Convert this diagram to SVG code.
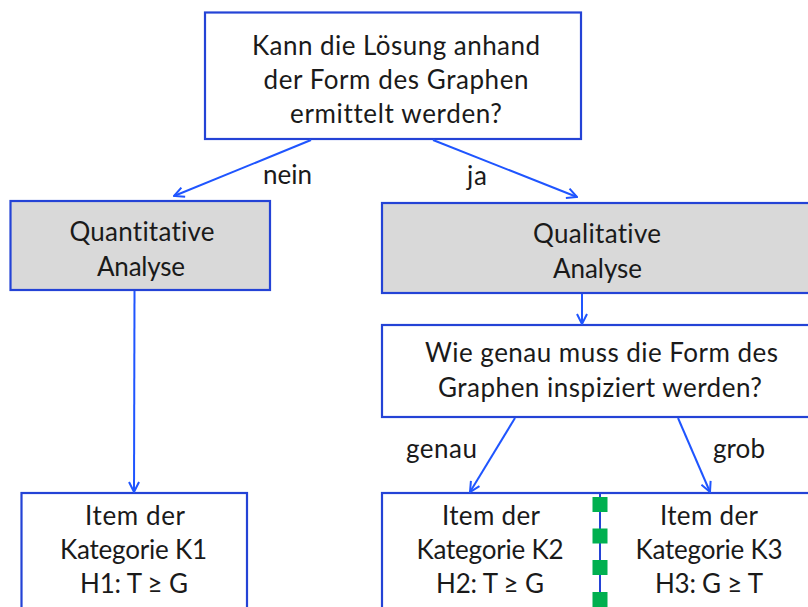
<svg xmlns="http://www.w3.org/2000/svg" width="808" height="607" viewBox="0 0 808 607">
<style>
.box{fill:#ffffff;stroke:#2443d6;stroke-width:2.2}
.grey{fill:#d9d9d9}
.t{font-family:Lato,"Liberation Sans",sans-serif;font-size:26px;fill:#1a1a1a;text-anchor:middle;font-variant-ligatures:none;font-feature-settings:"liga" 0,"clig" 0}
.lbl{font-family:Lato,"Liberation Sans",sans-serif;font-size:26px;fill:#1a1a1a;font-variant-ligatures:none;font-feature-settings:"liga" 0,"clig" 0}
.con{stroke:#1f55ff;stroke-width:2;fill:none;marker-end:url(#ah)}
</style>
<defs>
<marker id="ah" viewBox="0 0 12 12" refX="11" refY="6" markerWidth="12" markerHeight="12" markerUnits="userSpaceOnUse" orient="auto">
<polyline points="1,1 11,6 1,11" fill="none" stroke="#1f55ff" stroke-width="2"/>
</marker>
</defs>
<rect width="808" height="607" fill="#ffffff"/>
<g id="q1">
<rect class="box" x="205" y="12.5" width="376" height="126.5"/>
<text class="t" x="396" y="55" textLength="288">Kann die Lösung anhand</text>
<text class="t" x="396" y="89" textLength="265">der Form des Graphen</text>
<text class="t" x="396" y="123" textLength="212">ermittelt werden?</text>
</g>
<g id="quant">
<rect class="box grey" x="10.5" y="201" width="259.5" height="89"/>
<text class="t" x="142" y="241" textLength="145">Quantitative</text>
<text class="t" x="141" y="276" textLength="88">Analyse</text>
</g>
<g id="qual">
<rect class="box grey" x="382" y="203" width="440" height="90"/>
<text class="t" x="597" y="243" textLength="128">Qualitative</text>
<text class="t" x="597.5" y="278" textLength="89">Analyse</text>
</g>
<g id="q2">
<rect class="box" x="382" y="325" width="440" height="92"/>
<text class="t" x="601.5" y="362" textLength="353">Wie genau muss die Form des</text>
<text class="t" x="600" y="397" textLength="324">Graphen inspiziert werden?</text>
</g>
<g id="k1">
<rect class="box" x="21.5" y="493" width="225.5" height="130"/>
<text class="t" x="135" y="525" textLength="100">Item der</text>
<text class="t" x="133.5" y="559" textLength="147">Kategorie K1</text>
<text class="t" x="134" y="593" textLength="108">H1: T ≥ G</text>
</g>
<g id="k23">
<rect class="box" x="382" y="493" width="440" height="130"/>
<line x1="600" y1="493" x2="600" y2="607" stroke="#2443d6" stroke-width="2"/>
<g fill="#00b050">
<rect x="592.5" y="497" width="15" height="15"/>
<rect x="592.5" y="528.5" width="15" height="15"/>
<rect x="592.5" y="560" width="15" height="15"/>
<rect x="592.5" y="592" width="15" height="15"/>
</g>
</g>
<g id="k2">
<text class="t" x="491" y="525" textLength="98">Item der</text>
<text class="t" x="490" y="559" textLength="147">Kategorie K2</text>
<text class="t" x="490" y="593" textLength="108">H2: T ≥ G</text>
</g>
<g id="k3">
<text class="t" x="709" y="525" textLength="98">Item der</text>
<text class="t" x="709" y="559" textLength="147">Kategorie K3</text>
<text class="t" x="709" y="593" textLength="108">H3: G ≥ T</text>
</g>
<g id="connectors">
<line class="con" x1="311" y1="140" x2="174" y2="196"/>
<line class="con" x1="433" y1="140" x2="577" y2="197"/>
<line class="con" x1="134.5" y1="291" x2="134" y2="492"/>
<line class="con" x1="582" y1="294" x2="582" y2="324"/>
<line class="con" x1="515" y1="418" x2="470" y2="492"/>
<line class="con" x1="678" y1="418" x2="710" y2="492"/>
<text class="lbl" x="263" y="184" textLength="49">nein</text>
<text class="lbl" x="467" y="185" textLength="20">ja</text>
<text class="lbl" x="406" y="458" textLength="71">genau</text>
<text class="lbl" x="713" y="458" textLength="52">grob</text>
</g>
</svg>
